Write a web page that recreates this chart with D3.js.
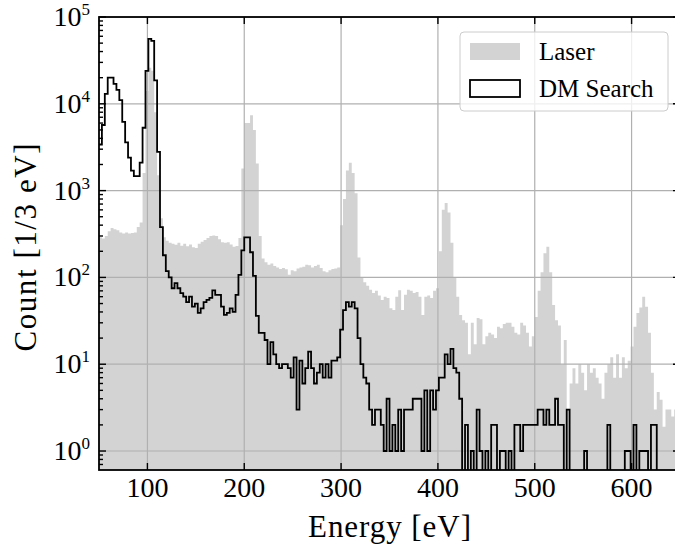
<!DOCTYPE html>
<html>
<head>
<meta charset="utf-8">
<script src="https://d3js.org/d3.v7.min.js"></script>
<style>
  body { margin: 0; background: #fff; }
  text { font-family: "Liberation Serif", "Times New Roman", serif; fill: #000; }
</style>
</head>
<body>
<div id="chart"></div>
<script>
// histogram bins: 3 eV wide, starting at 50 eV
var binLeft = 50, binWidth = 3;

var laser = [
  290, 280, 300, 340, 370, 360, 350, 330, 320, 330,
  320, 325, 330, 380, 430, 1600, 14000, 26000, 24000, 8000,
  1500, 480, 290, 265, 250, 245, 238, 250, 232, 245,
  228, 240, 222, 218, 245, 258, 270, 285, 300, 305,
  300, 275, 255, 250, 255, 240, 225, 230, 285, 1800,
  6000, 6000, 7400, 5000, 2050, 300, 165, 150, 140, 145,
  135, 130, 125, 128, 124, 107, 121, 118, 127, 130,
  133, 140, 138, 130, 135, 140, 128, 118, 115, 121,
  125, 127, 130, 400, 800, 1700, 2100, 1600, 930, 170,
  100, 88, 80, 72, 66, 70, 62, 55, 60, 58,
  44, 42, 60, 71, 42, 63, 72, 70, 66, 68,
  60, 37, 60, 62, 58, 70, 75, 200, 600, 720,
  560, 250, 100, 60, 37, 32, 30, 13, 30, 17,
  34, 33, 17, 21, 23, 22, 20, 27, 26, 29,
  30, 30, 27, 23, 22, 30, 28, 23, 16, 21,
  35, 70, 115, 190, 225, 115, 48, 32, 28, 10,
  19, 3, 6, 9, 6, 10, 8, 5, 10, 8,
  9, 7, 6, 4, 8, 10, 12, 7, 13, 7,
  12, 9, 11, 16, 27, 39, 45, 60, 46, 23,
  8, 3, 4.8, 3.9, 1.9, 3, 3, 2.5, 3, 3
];

var dmSearch = [
  3400, 5700, 13000, 20000, 20000, 17000, 14500, 11000, 6200, 3600,
  2400, 1700, 1470, 1470, 2100, 5300, 24000, 56000, 53000, 18600,
  2800, 380, 180, 118, 100, 75, 86, 75, 66, 60,
  52, 60, 46, 50, 39, 44, 52, 55, 58, 71,
  63, 63, 46, 37, 39, 44, 40, 63, 107, 205,
  290, 290, 195, 104, 36, 23, 23, 19, 10, 18,
  13, 10, 9, 10, 10, 9, 7, 12, 3, 11,
  6, 9, 14, 9, 6, 8, 10, 7, 10, 7,
  11, 11, 12, 25, 42, 52, 46, 52, 44, 20,
  10, 7, 6, 3, 2, 3, 3, 2, 1, 4,
  1, 2, 1, 3, 1, 3, 3, 3, 4, 4,
  4, 1, 5, 1, 5, 3, 5, 7, 7, 13,
  10, 15, 9, 8, 4, 0, 2, 0, 1, 0,
  3, 1, 0, 1, 0, 2, 2, 0, 1, 1,
  0, 1, 0, 2, 2, 1, 2, 2, 2, 2,
  2, 3, 3, 2, 3, 2, 2, 4, 2, 2,
  0, 3, 0, 0, 0, 0, 0, 1, 0, 0,
  0, 0, 0, 0, 0, 2, 0, 0, 0, 0,
  0, 1, 1, 0, 2, 0, 1, 1, 1, 0,
  2, 2, 0, 0, 0, 0, 0, 0, 0, 0
];

var xTicks = [100, 200, 300, 400, 500, 600];
var yTicks = [1, 10, 100, 1000, 10000, 100000];
var yTickExp = ["0", "1", "2", "3", "4", "5"];
var legendLabels = ["Laser", "DM Search"];

var W = 675, H = 548;
var pLeft = 99, pRight = 680, pTop = 17, pBottom = 470;

var svg = d3.select("#chart").append("svg")
  .attr("width", W).attr("height", H);

var x = d3.scaleLinear().domain([50, 650]).range([pLeft, pRight]);
var y = d3.scaleLog().domain([0.6045, 100000]).range([pBottom, pTop]);

svg.append("clipPath").attr("id", "plotclip")
  .append("rect").attr("x", pLeft).attr("y", pTop)
  .attr("width", pRight - pLeft).attr("height", pBottom - pTop);

function stepPoints(vals) {
  var pts = [];
  vals.forEach(function(v, i) {
    var e0 = binLeft + i * binWidth;
    pts.push([e0, v], [e0 + binWidth, v]);
  });
  return pts;
}
function yv(v) { return v > 0 ? y(v) : pBottom + 20; }

var plot = svg.append("g").attr("clip-path", "url(#plotclip)");

// laser, filled steps
plot.append("path")
  .datum(stepPoints(laser))
  .attr("fill", "#d3d3d3")
  .attr("d", d3.area().x(d => x(d[0])).y0(pBottom + 20).y1(d => yv(d[1])));

// grid above the filled histogram
var grid = plot.append("g").attr("stroke", "#b0b0b0").attr("stroke-width", 1.2);
xTicks.forEach(function(t) {
  grid.append("line").attr("x1", x(t)).attr("x2", x(t)).attr("y1", pTop).attr("y2", pBottom);
});
yTicks.forEach(function(t) {
  grid.append("line").attr("x1", pLeft).attr("x2", pRight).attr("y1", y(t)).attr("y2", y(t));
});

// DM search, outline steps
plot.append("path")
  .datum(stepPoints(dmSearch))
  .attr("fill", "none")
  .attr("stroke", "#000")
  .attr("stroke-width", 1.8)
  .attr("d", d3.line().x(d => x(d[0])).y(d => yv(d[1])));

// frame and inward ticks on all sides
var ax = svg.append("g").attr("stroke", "#000").attr("stroke-width", 1.4);
xTicks.forEach(function(t) {
  ax.append("line").attr("x1", x(t)).attr("x2", x(t)).attr("y1", pBottom).attr("y2", pBottom - 7);
  ax.append("line").attr("x1", x(t)).attr("x2", x(t)).attr("y1", pTop).attr("y2", pTop + 7);
});
var minor = [];
for (var e = -1; e < 5; e++) {
  for (var m = 2; m <= 9; m++) {
    var v = m * Math.pow(10, e);
    if (v > 0.6045 && v < 100000) minor.push(v);
  }
}
yTicks.forEach(function(t) {
  ax.append("line").attr("x1", pLeft).attr("x2", pLeft + 7).attr("y1", y(t)).attr("y2", y(t));
  ax.append("line").attr("x1", pRight).attr("x2", pRight - 7).attr("y1", y(t)).attr("y2", y(t));
});
minor.forEach(function(t) {
  ax.append("line").attr("x1", pLeft).attr("x2", pLeft + 4).attr("y1", y(t)).attr("y2", y(t));
  ax.append("line").attr("x1", pRight).attr("x2", pRight - 4).attr("y1", y(t)).attr("y2", y(t));
});
svg.append("rect")
  .attr("x", pLeft).attr("y", pTop).attr("width", pRight - pLeft).attr("height", pBottom - pTop)
  .attr("fill", "none").attr("stroke", "#000").attr("stroke-width", 1.8);

// tick labels
xTicks.forEach(function(t) {
  svg.append("text").attr("x", x(t)).attr("y", 497)
    .attr("text-anchor", "middle").style("font-size", "28px").text(t);
});
yTicks.forEach(function(t, i) {
  var txt = svg.append("text").attr("x", 90).attr("y", y(t) + 9)
    .attr("text-anchor", "end").style("font-size", "28px");
  txt.append("tspan").text("10");
  txt.append("tspan").attr("dy", -11).style("font-size", "17px").text(yTickExp[i]);
});

// axis labels
svg.append("text").attr("x", (pLeft + pRight) / 2).attr("y", 537)
  .attr("text-anchor", "middle").style("font-size", "31px")
  .attr("textLength", 163).attr("lengthAdjust", "spacing").text("Energy [eV]");
svg.append("text")
  .attr("transform", "translate(36," + ((pTop + pBottom) / 2 + 4) + ") rotate(-90)")
  .attr("text-anchor", "middle").style("font-size", "31px")
  .attr("textLength", 208).attr("lengthAdjust", "spacing").text("Count [1/3 eV]");

// legend
var lg = svg.append("g");
lg.append("rect").attr("x", 460).attr("y", 32).attr("width", 208).attr("height", 79)
  .attr("rx", 4).attr("fill", "#fff").attr("fill-opacity", 0.8)
  .attr("stroke", "#cccccc").attr("stroke-width", 1);
lg.append("rect").attr("x", 470).attr("y", 43).attr("width", 50).attr("height", 17)
  .attr("fill", "#d3d3d3");
lg.append("rect").attr("x", 470).attr("y", 80).attr("width", 50).attr("height", 17)
  .attr("fill", "none").attr("stroke", "#000").attr("stroke-width", 1.8);
lg.append("text").attr("x", 539).attr("y", 60).style("font-size", "25px").text(legendLabels[0]);
lg.append("text").attr("x", 539).attr("y", 97).style("font-size", "25px").text(legendLabels[1]);
</script>
</body>
</html>
